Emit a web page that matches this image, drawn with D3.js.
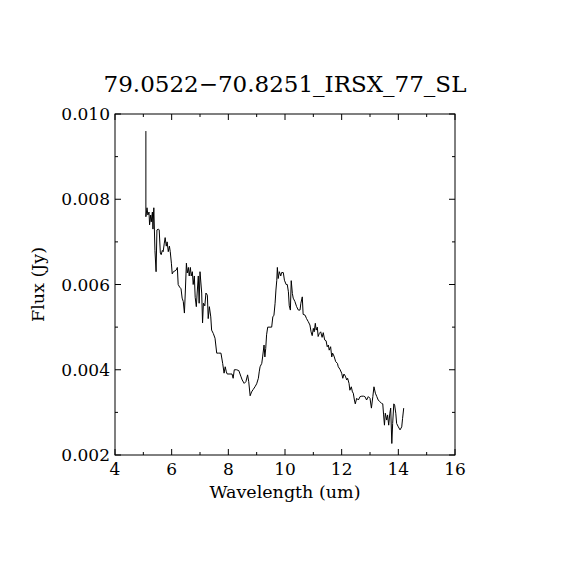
<!DOCTYPE html>
<html>
<head>
  <meta charset="utf-8">
  <title>79.0522-70.8251_IRSX_77_SL</title>
  <style>
    body { margin: 0; background: #fff; }
    text { font-family: "DejaVu Serif", serif; fill: #000; }
  </style>
</head>
<body>
  <script src="https://cdn.jsdelivr.net/npm/d3@7/dist/d3.min.js"></script>
  <script>
    // spectrum: wavelength (um) and flux (Jy)
    var wavelength = [5.09, 5.09, 5.13, 5.16, 5.20, 5.22, 5.26, 5.28, 5.32, 5.34, 5.37, 5.41, 5.45, 5.48,
      5.53, 5.56, 5.60, 5.63, 5.67, 5.70, 5.74, 5.77, 5.81, 5.84, 5.88, 5.92, 5.95, 5.99, 6.02, 6.06,
      6.12, 6.16, 6.20, 6.23, 6.28, 6.33, 6.37, 6.41, 6.45, 6.48, 6.52, 6.55, 6.59, 6.62, 6.66, 6.69,
      6.73, 6.76, 6.80, 6.83, 6.87, 6.90, 6.94, 6.97, 7.00, 7.06, 7.09, 7.12, 7.17, 7.21, 7.26, 7.29,
      7.33, 7.38, 7.41, 7.47, 7.53, 7.59, 7.65, 7.74, 7.80, 7.85, 7.89, 7.93, 7.96, 8.06, 8.13, 8.17,
      8.21, 8.29, 8.37, 8.44, 8.49, 8.56, 8.62, 8.68, 8.72, 8.77, 8.82, 8.88, 8.94, 9.00, 9.06, 9.09,
      9.12, 9.18, 9.21, 9.26, 9.29, 9.32, 9.35, 9.39, 9.47, 9.53, 9.57, 9.61, 9.65, 9.68, 9.71, 9.73,
      9.76, 9.80, 9.85, 9.88, 9.94, 9.98, 10.04, 10.08, 10.12, 10.15, 10.19, 10.22, 10.26, 10.29,
      10.35, 10.41, 10.47, 10.53, 10.56, 10.61, 10.64, 10.71, 10.76, 10.82, 10.88, 10.92, 10.96,
      11.00, 11.03, 11.07, 11.10, 11.14, 11.17, 11.21, 11.26, 11.31, 11.35, 11.40, 11.45, 11.49,
      11.53, 11.56, 11.61, 11.65, 11.68, 11.73, 11.79, 11.85, 11.88, 11.94, 12.00, 12.04, 12.08,
      12.13, 12.18, 12.21, 12.26, 12.29, 12.34, 12.38, 12.41, 12.45, 12.48, 12.53, 12.59, 12.65,
      12.71, 12.77, 12.82, 12.88, 12.94, 13.00, 13.05, 13.10, 13.14, 13.19, 13.24, 13.29, 13.35,
      13.41, 13.45, 13.48, 13.51, 13.54, 13.59, 13.62, 13.66, 13.70, 13.73, 13.77, 13.80, 13.84,
      13.87, 13.91, 13.94, 14.00, 14.06, 14.12, 14.15, 14.19];
    var flux = [0.0096, 0.00759, 0.0078, 0.00763, 0.0077, 0.0074, 0.00763, 0.00747, 0.0077, 0.0073,
      0.0078, 0.0068, 0.0063, 0.00728, 0.0073, 0.00728, 0.00674, 0.0067, 0.0068, 0.00677, 0.00697,
      0.0071, 0.0069, 0.0070, 0.00677, 0.0069, 0.00677, 0.0065, 0.00625, 0.0063, 0.00632, 0.00634,
      0.0064, 0.0060, 0.00594, 0.0059, 0.00568, 0.0056, 0.00533, 0.0058, 0.0065, 0.00627, 0.0064,
      0.0062, 0.0064, 0.0062, 0.0063, 0.0060, 0.0062, 0.0057, 0.00548, 0.0058, 0.0062, 0.00556,
      0.0063, 0.0058, 0.0051, 0.00556, 0.0055, 0.0058, 0.00575, 0.0052, 0.00548, 0.00524, 0.00493,
      0.00485, 0.00474, 0.00439, 0.00439, 0.00439, 0.00415, 0.00392, 0.00407, 0.00395, 0.0039,
      0.0039, 0.0039, 0.0038, 0.0040, 0.0040, 0.00398, 0.00385, 0.00376, 0.00368, 0.00372, 0.00388,
      0.00372, 0.00339, 0.00348, 0.00354, 0.0036, 0.00367, 0.0038, 0.00395, 0.00407, 0.00415,
      0.0043, 0.00458, 0.0043, 0.0045, 0.00482, 0.0050, 0.0050, 0.0050, 0.00524, 0.00528, 0.00556,
      0.00587, 0.0061, 0.0064, 0.00614, 0.0063, 0.0062, 0.00628, 0.00628, 0.0061, 0.0060, 0.0060,
      0.00583, 0.0055, 0.0054, 0.00609, 0.00579, 0.00568, 0.0056, 0.00548, 0.0054, 0.0054, 0.00556,
      0.00571, 0.0053, 0.00528, 0.0052, 0.00513, 0.00505, 0.00489, 0.0048, 0.00497, 0.00489,
      0.00509, 0.00493, 0.0050, 0.00478, 0.00485, 0.00489, 0.00476, 0.00487, 0.0047, 0.00468,
      0.00454, 0.00458, 0.00446, 0.00454, 0.0043, 0.00439, 0.00432, 0.00419, 0.00415, 0.00407,
      0.00401, 0.00392, 0.0038, 0.0039, 0.00385, 0.00376, 0.0038, 0.00368, 0.00352, 0.0036,
      0.00348, 0.00345, 0.00329, 0.0032, 0.00333, 0.00329, 0.00337, 0.00338, 0.00338, 0.00337,
      0.00329, 0.00337, 0.00333, 0.0031, 0.00337, 0.0036, 0.00345, 0.00337, 0.00329, 0.00325,
      0.00321, 0.0032, 0.00294, 0.0027, 0.00298, 0.00282, 0.00294, 0.0027, 0.00298, 0.0031,
      0.00227, 0.00274, 0.0032, 0.00317, 0.00298, 0.00274, 0.00266, 0.00259, 0.00266, 0.00286,
      0.0031];

    var xMajor = [4, 6, 8, 10, 12, 14, 16];
    var xMinor = [5, 7, 9, 11, 13, 15];
    var yMajor = [0.002, 0.004, 0.006, 0.008, 0.010];
    var yMinor = [0.003, 0.005, 0.007, 0.009];

    var w = 570, h = 570;
    var padL = 115, padR = 455, padT = 114, padB = 455;

    var x = d3.scaleLinear().domain([4, 16]).range([padL, padR]);
    var y = d3.scaleLinear().domain([0.002, 0.010]).range([padB, padT]);

    var svg = d3.select("body").append("svg")
      .attr("width", w)
      .attr("height", h);

    // frame
    svg.append("rect")
      .attr("x", padL).attr("y", padT)
      .attr("width", padR - padL).attr("height", padB - padT)
      .attr("fill", "none").attr("stroke", "#000").attr("stroke-width", 1);

    // inward ticks on all four sides
    function ticksX(vals, len) {
      vals.forEach(function (v) {
        svg.append("line").attr("x1", x(v)).attr("x2", x(v))
          .attr("y1", padB).attr("y2", padB - len).attr("stroke", "#000");
        svg.append("line").attr("x1", x(v)).attr("x2", x(v))
          .attr("y1", padT).attr("y2", padT + len).attr("stroke", "#000");
      });
    }
    function ticksY(vals, len) {
      vals.forEach(function (v) {
        svg.append("line").attr("y1", y(v)).attr("y2", y(v))
          .attr("x1", padL).attr("x2", padL + len).attr("stroke", "#000");
        svg.append("line").attr("y1", y(v)).attr("y2", y(v))
          .attr("x1", padR).attr("x2", padR - len).attr("stroke", "#000");
      });
    }
    ticksX(xMajor, 6); ticksX(xMinor, 3);
    ticksY(yMajor, 6); ticksY(yMinor, 3);

    // tick labels
    svg.selectAll("text.xlab").data(xMajor).enter().append("text")
      .attr("class", "xlab")
      .attr("x", function (d) { return x(d); })
      .attr("y", padB + 20)
      .attr("text-anchor", "middle")
      .style("font-size", "17px")
      .text(function (d) { return d; });

    svg.selectAll("text.ylab").data(yMajor).enter().append("text")
      .attr("class", "ylab")
      .attr("x", padL - 5)
      .attr("y", function (d) { return y(d) + 6; })
      .attr("text-anchor", "end")
      .style("font-size", "17px")
      .text(function (d) { return d3.format(".3f")(d); });

    // spectrum
    var pts = wavelength.map(function (d, i) { return [d, flux[i]]; });
    var line = d3.line()
      .x(function (d) { return x(d[0]); })
      .y(function (d) { return y(d[1]); });
    svg.append("path")
      .datum(pts)
      .attr("d", line)
      .attr("fill", "none")
      .attr("stroke", "#000")
      .attr("stroke-width", 1);

    // axis titles
    svg.append("text")
      .attr("x", (padL + padR) / 2)
      .attr("y", 498)
      .attr("text-anchor", "middle")
      .style("font-size", "17.5px")
      .text("Wavelength (um)");

    svg.append("text")
      .attr("transform", "translate(44," + ((padT + padB) / 2) + ") rotate(-90)")
      .attr("text-anchor", "middle")
      .style("font-size", "17.5px")
      .text("Flux (Jy)");

    // title
    svg.append("text")
      .attr("x", 285)
      .attr("y", 92)
      .attr("text-anchor", "middle")
      .style("font-size", "23px")
      .text("79.0522\u221270.8251_IRSX_77_SL");
  </script>
</body>
</html>
